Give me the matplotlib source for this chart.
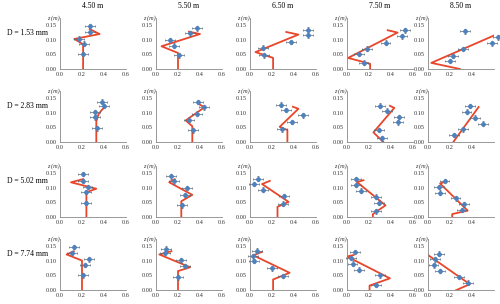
import matplotlib
matplotlib.use("Agg")
import matplotlib.pyplot as plt

plt.rcParams["font.family"] = ["Liberation Serif", "DejaVu Serif"]

distances = ["4.50 m", "5.50 m", "6.50 m", "7.50 m", "8.50 m"]
diameters = ["D = 1.53 mm", "D = 2.83 mm", "D = 5.02 mm", "D = 7.74 mm"]

# measured points (concentration, z) for each panel, row = diameter, col = distance
pts_x = [
    [[0.27, 0.27, 0.17, 0.22, 0.21],
     [0.37, 0.31, 0.13, 0.16, 0.21],
     [0.53, 0.53, 0.37, 0.12, 0.13],
     [0.53, 0.50, 0.35, 0.18, 0.11, 0.15],
     [0.34, 0.64, 0.58, 0.32, 0.23, 0.20]],
    [[0.38, 0.40, 0.32, 0.32, 0.34],
     [0.38, 0.44, 0.37, 0.30, 0.34],
     [0.28, 0.33, 0.48, 0.38, 0.29],
     [0.30, 0.36, 0.47, 0.46, 0.29, 0.32],
     [0.38, 0.35, 0.43, 0.50, 0.32, 0.24]],
    [[0.21, 0.21, 0.25, 0.24, 0.24],
     [0.14, 0.16, 0.28, 0.26, 0.24],
     [0.07, 0.04, 0.12, 0.31, 0.30],
     [0.08, 0.08, 0.13, 0.26, 0.29, 0.26],
     [0.15, 0.10, 0.11, 0.25, 0.33, 0.31]],
    [[0.13, 0.11, 0.26, 0.23, 0.21],
     [0.09, 0.08, 0.23, 0.26, 0.20],
     [0.06, 0.03, 0.04, 0.20, 0.30],
     [0.07, 0.04, 0.05, 0.11, 0.30, 0.26],
     [0.10, 0.06, 0.05, 0.11, 0.28, 0.36]],
]
pts_z = [
    [[0.148, 0.127, 0.104, 0.087, 0.052],
     [0.140, 0.122, 0.100, 0.080, 0.047],
     [0.135, 0.115, 0.093, 0.073, 0.047],
     [0.133, 0.112, 0.090, 0.070, 0.052, 0.022],
     [0.129, 0.109, 0.088, 0.069, 0.045, 0.027]],
    [[0.138, 0.123, 0.102, 0.085, 0.047],
     [0.137, 0.119, 0.097, 0.077, 0.040],
     [0.128, 0.110, 0.091, 0.069, 0.043],
     [0.125, 0.107, 0.086, 0.067, 0.041, 0.013],
     [0.123, 0.104, 0.084, 0.063, 0.043, 0.024]],
    [[0.148, 0.124, 0.103, 0.086, 0.048],
     [0.140, 0.122, 0.099, 0.076, 0.040],
     [0.132, 0.113, 0.094, 0.072, 0.046],
     [0.130, 0.110, 0.090, 0.070, 0.049, 0.020],
     [0.124, 0.103, 0.084, 0.064, 0.044, 0.024]],
    [[0.147, 0.127, 0.105, 0.086, 0.050],
     [0.142, 0.127, 0.102, 0.082, 0.044],
     [0.135, 0.116, 0.099, 0.074, 0.048],
     [0.130, 0.110, 0.090, 0.070, 0.050, 0.017],
     [0.125, 0.105, 0.085, 0.065, 0.045, 0.025]],
]
# model profile (red line) for each panel
line_x = [
    [[0.21, 0.21, 0.13, 0.36, 0.27],
     [0.20, 0.20, 0.05, 0.40, 0.30],
     [0.21, 0.21, 0.05, 0.44, 0.33],
     [0.21, 0.21, 0.01, 0.46, 0.37],
     [0.29, 0.03, 0.60]],
    [[0.33, 0.33, 0.35, 0.38, 0.40],
     [0.33, 0.33, 0.27, 0.44, 0.39],
     [0.34, 0.34, 0.27, 0.44, 0.39],
     [0.33, 0.24, 0.43, 0.39],
     [0.27, 0.23, 0.46]],
    [[0.24, 0.24, 0.33, 0.10, 0.21],
     [0.23, 0.23, 0.33, 0.12, 0.17],
     [0.25, 0.25, 0.35, 0.11, 0.18],
     [0.235, 0.235, 0.35, 0.09, 0.15],
     [0.22, 0.22, 0.36, 0.11, 0.16]],
    [[0.20, 0.20, 0.06, 0.125],
     [0.20, 0.20, 0.31, 0.03, 0.14],
     [0.21, 0.21, 0.36, 0.03, 0.11],
     [0.205, 0.205, 0.39, 0.00, 0.06],
     [0.20, 0.38, 0.00]],
]
line_z = [
    [[0.0, 0.085, 0.103, 0.120, 0.137],
     [0.0, 0.055, 0.078, 0.120, 0.128],
     [0.0, 0.038, 0.058, 0.118, 0.127],
     [0.0, 0.018, 0.038, 0.125, 0.133],
     [0.0, 0.021, 0.115]],
    [[0.0, 0.070, 0.095, 0.110, 0.117],
     [0.0, 0.054, 0.074, 0.119, 0.130],
     [0.0, 0.041, 0.052, 0.114, 0.121],
     [0.0, 0.033, 0.117, 0.124],
     [-0.01, 0.0, 0.120]],
    [[0.0, 0.085, 0.097, 0.119, 0.130],
     [0.0, 0.054, 0.076, 0.119, 0.130],
     [0.0, 0.035, 0.052, 0.113, 0.124],
     [0.0, 0.010, 0.040, 0.120, 0.126],
     [0.0, 0.010, 0.022, 0.115, 0.121]],
    [[0.0, 0.101, 0.122, 0.133],
     [0.0, 0.065, 0.078, 0.122, 0.133],
     [0.0, 0.036, 0.059, 0.119, 0.131],
     [0.0, 0.015, 0.040, 0.115, 0.120],
     [-0.01, 0.020, 0.120]],
]
x_err = 0.045
z_err = 0.008

fig = plt.figure(figsize=(5.0, 3.04), dpi=100)

W, H = 500.0, 304.0
col_left = [60, 156, 250, 347, 428]   # pixel position of x = 0
row_zero = [69, 142, 217, 290]        # pixel position of z = 0
ax_w = 66
ax_h = 51

for r in range(4):
    for c in range(5):
        ax = fig.add_axes([col_left[c] / W, 1 - row_zero[r] / H, ax_w / W, ax_h / H])
        ax.plot(line_x[r][c], line_z[r][c], color="#E8462A", lw=1.3, zorder=2)
        ax.errorbar(pts_x[r][c], pts_z[r][c], xerr=x_err, yerr=z_err,
                    fmt="D", ms=2.2, color="#4F81BD", mec="#4F81BD",
                    ecolor="#5A6A7A", elinewidth=0.5, capsize=1, capthick=0.5,
                    zorder=3, clip_on=False)
        ax.set_xlim(0, 0.6)
        ax.set_ylim(0, 0.175)
        if c < 4:
            ax.set_xticks([0, 0.2, 0.4, 0.6])
            ax.set_xticklabels(["0.0", "0.2", "0.4", "0.6"])
        else:
            ax.set_xticks([0, 0.2, 0.4])
            ax.set_xticklabels(["0.0", "0.2", "0.4"])
        ax.set_yticks([0, 0.05, 0.10, 0.15])
        ax.set_yticklabels(["0.00", "0.05", "0.10", "0.15"])
        ax.tick_params(labelsize=4.5, length=0, pad=2, colors="#333333")
        for s in ["top", "right"]:
            ax.spines[s].set_visible(False)
        for s in ["left", "bottom"]:
            ax.spines[s].set_color("#888888")
            ax.spines[s].set_linewidth(0.6)
        ax.text(-0.01, 1.0, "z (m)", transform=ax.transAxes, ha="right",
                va="center", fontsize=4.5, style="italic", color="#333333")
        if r == 0:
            ax.set_title(distances[c], fontsize=5.5, pad=7)
        if c == 0:
            fig.text(7 / W, 1 - (row_zero[r] - 36) / H, diameters[r],
                     fontsize=5.5, va="center", ha="left")

fig.savefig("out.png", dpi=100)
